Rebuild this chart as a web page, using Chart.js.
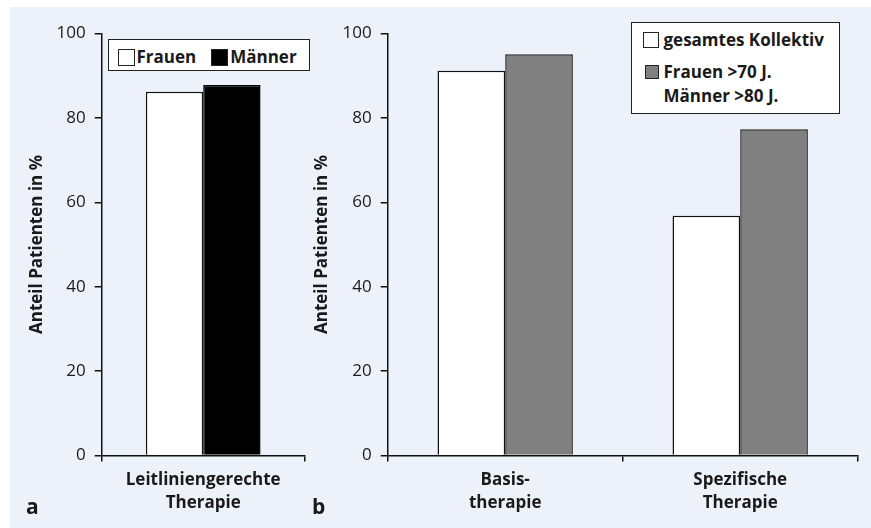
<!DOCTYPE html>
<html lang="de">
<head>
  <meta charset="UTF-8">
  <title>Anteil Patienten in %</title>
  <script src="https://cdn.jsdelivr.net/npm/chart.js"></script>
  <style>
    body {
      margin: 0;
      font-family: 'Open Sans', sans-serif;
      color: #1a1a1a;
    }

    .page {
      position: relative;
      width: 871px;
      height: 528px;
      background: #fff;
      overflow: hidden;
    }

    .panel-bg {
      position: absolute;
      left: 10px;
      top: 7px;
      right: 0;
      bottom: 0;
      background: #edf1f9;
    }

    canvas {
      position: absolute;
      top: 0;
    }

    #chartA { left: 0; }
    #chartB { left: 300px; }

    .legend {
      position: absolute;
      box-sizing: border-box;
      background: #fff;
      border: 1.5px solid #222;
      font-weight: 700;
      font-size: 17px;
      line-height: 24px;
    }

    #legendA {
      left: 108px;
      top: 39px;
      width: 202px;
      height: 32px;
      padding: 4px 0 0 8.5px;
      display: flex;
    }

    #legendA .item { display: flex; align-items: center; }
    #legendA .item + .item { margin-left: 15px; }
    #legendA .swatch { width: 17px; height: 17px; margin-right: 2px; }

    #legendB {
      left: 631px;
      top: 22px;
      width: 209px;
      height: 92px;
      padding: 4.5px 0 0 10.5px;
    }

    #legendB .item { display: flex; align-items: flex-start; white-space: pre-line; }
    #legendB .item + .item { margin-top: 8px; }
    #legendB .swatch { width: 16px; height: 16px; margin: 4px 5px 0 0; }
    #legendB .item + .item .swatch { width: 14px; height: 14px; margin: 5px 5px 0 2px; }

    .swatch {
      box-sizing: border-box;
      border: 1.3px solid #222;
      flex: none;
    }

    .panel-letter {
      position: absolute;
      top: 492px;
      font-weight: 700;
      font-size: 21px;
    }
  </style>
</head>
<body>
  <div class="page">
    <div class="panel-bg"></div>
    <canvas id="chartA" width="318" height="528"></canvas>
    <canvas id="chartB" width="571" height="528"></canvas>
    <div class="legend" id="legendA"></div>
    <div class="legend" id="legendB"></div>
    <div class="panel-letter" style="left:26px">a</div>
    <div class="panel-letter" style="left:312px">b</div>
  </div>

  <script>
    // Panel a
    const categoriesA = [['Leitliniengerechte', 'Therapie']];
    const seriesA = ['Frauen', 'Männer'];
    const frauen = [86.2];
    const maenner = [87.8];

    // Panel b
    const categoriesB = [['Basis-', 'therapie'], ['Spezifische', 'Therapie']];
    const seriesB = ['gesamtes Kollektiv', 'Frauen >70 J.\nMänner >80 J.'];
    const gesamt = [91.2, 56.8];
    const aeltere = [95.1, 77.3];

    const yTicks = [0, 20, 40, 60, 80, 100];
    const yTitle = 'Anteil Patienten in %';

    const font = 'Open Sans';
    const ink = '#1a1a1a';

    function makeScales(yWidth, titlePad, xHeight) {
      return {
        x: {
          afterFit: s => { s.height = xHeight; },
          grid: { display: true, drawOnChartArea: false, drawTicks: true, tickLength: 6, color: '#111', lineWidth: 1.5, offset: true },
          border: { display: true, color: '#111', width: 1.5 },
          ticks: {
            padding: 7,
            maxRotation: 0,
            autoSkip: false,
            color: ink,
            font: { family: font, size: 17, weight: 'bold', lineHeight: 23 / 17 }
          }
        },
        y: {
          min: 0,
          max: 100,
          afterFit: s => { s.width = yWidth; },
          afterBuildTicks: s => { s.ticks = yTicks.map(v => ({ value: v })); },
          grid: { display: true, drawOnChartArea: false, drawTicks: true, tickLength: 7, color: '#111', lineWidth: 1.5 },
          border: { display: true, color: '#111', width: 1.5 },
          ticks: {
            padding: 9,
            color: ink,
            font: { family: font, size: 17 }
          },
          title: {
            display: true,
            text: yTitle,
            color: ink,
            padding: { top: titlePad, bottom: 0 },
            font: { family: font, size: 17, weight: 'bold', lineHeight: 1 }
          }
        }
      };
    }

    function commonOptions(yWidth, titlePad, right) {
      return {
        responsive: false,
        animation: false,
        layout: { padding: { left: 0, top: 33.5, right: right, bottom: 0 } },
        plugins: { legend: { display: false }, tooltip: { enabled: false } },
        scales: makeScales(yWidth, titlePad, 72.5)
      };
    }

    const chartA = new Chart(document.getElementById('chartA'), {
      type: 'bar',
      data: {
        labels: categoriesA,
        datasets: [
          { label: seriesA[0], data: frauen, backgroundColor: '#ffffff', borderColor: '#111', borderWidth: 1.5, barPercentage: 1, categoryPercentage: 0.565 },
          { label: seriesA[1], data: maenner, backgroundColor: '#000000', borderColor: '#000', borderWidth: 1.5, barPercentage: 1, categoryPercentage: 0.565 }
        ]
      },
      options: commonOptions(101.7, 28.5, 13.3)
    });

    const chartB = new Chart(document.getElementById('chartB'), {
      type: 'bar',
      data: {
        labels: categoriesB,
        datasets: [
          { label: seriesB[0], data: gesamt, backgroundColor: '#ffffff', borderColor: '#111', borderWidth: 1.5, barPercentage: 1, categoryPercentage: 0.576 },
          { label: seriesB[1], data: aeltere, backgroundColor: '#808080', borderColor: '#222', borderWidth: 1.5, barPercentage: 1, categoryPercentage: 0.576 }
        ]
      },
      options: commonOptions(87.7, 13.5, 13.3)
    });

    // html legends built from the datasets
    function buildLegend(chart, el) {
      chart.data.datasets.forEach(ds => {
        const item = document.createElement('div');
        item.className = 'item';
        const sw = document.createElement('span');
        sw.className = 'swatch';
        sw.style.background = ds.backgroundColor;
        const txt = document.createElement('span');
        txt.textContent = ds.label;
        item.appendChild(sw);
        item.appendChild(txt);
        el.appendChild(item);
      });
    }

    buildLegend(chartA, document.getElementById('legendA'));
    buildLegend(chartB, document.getElementById('legendB'));
  </script>
</body>
</html>
